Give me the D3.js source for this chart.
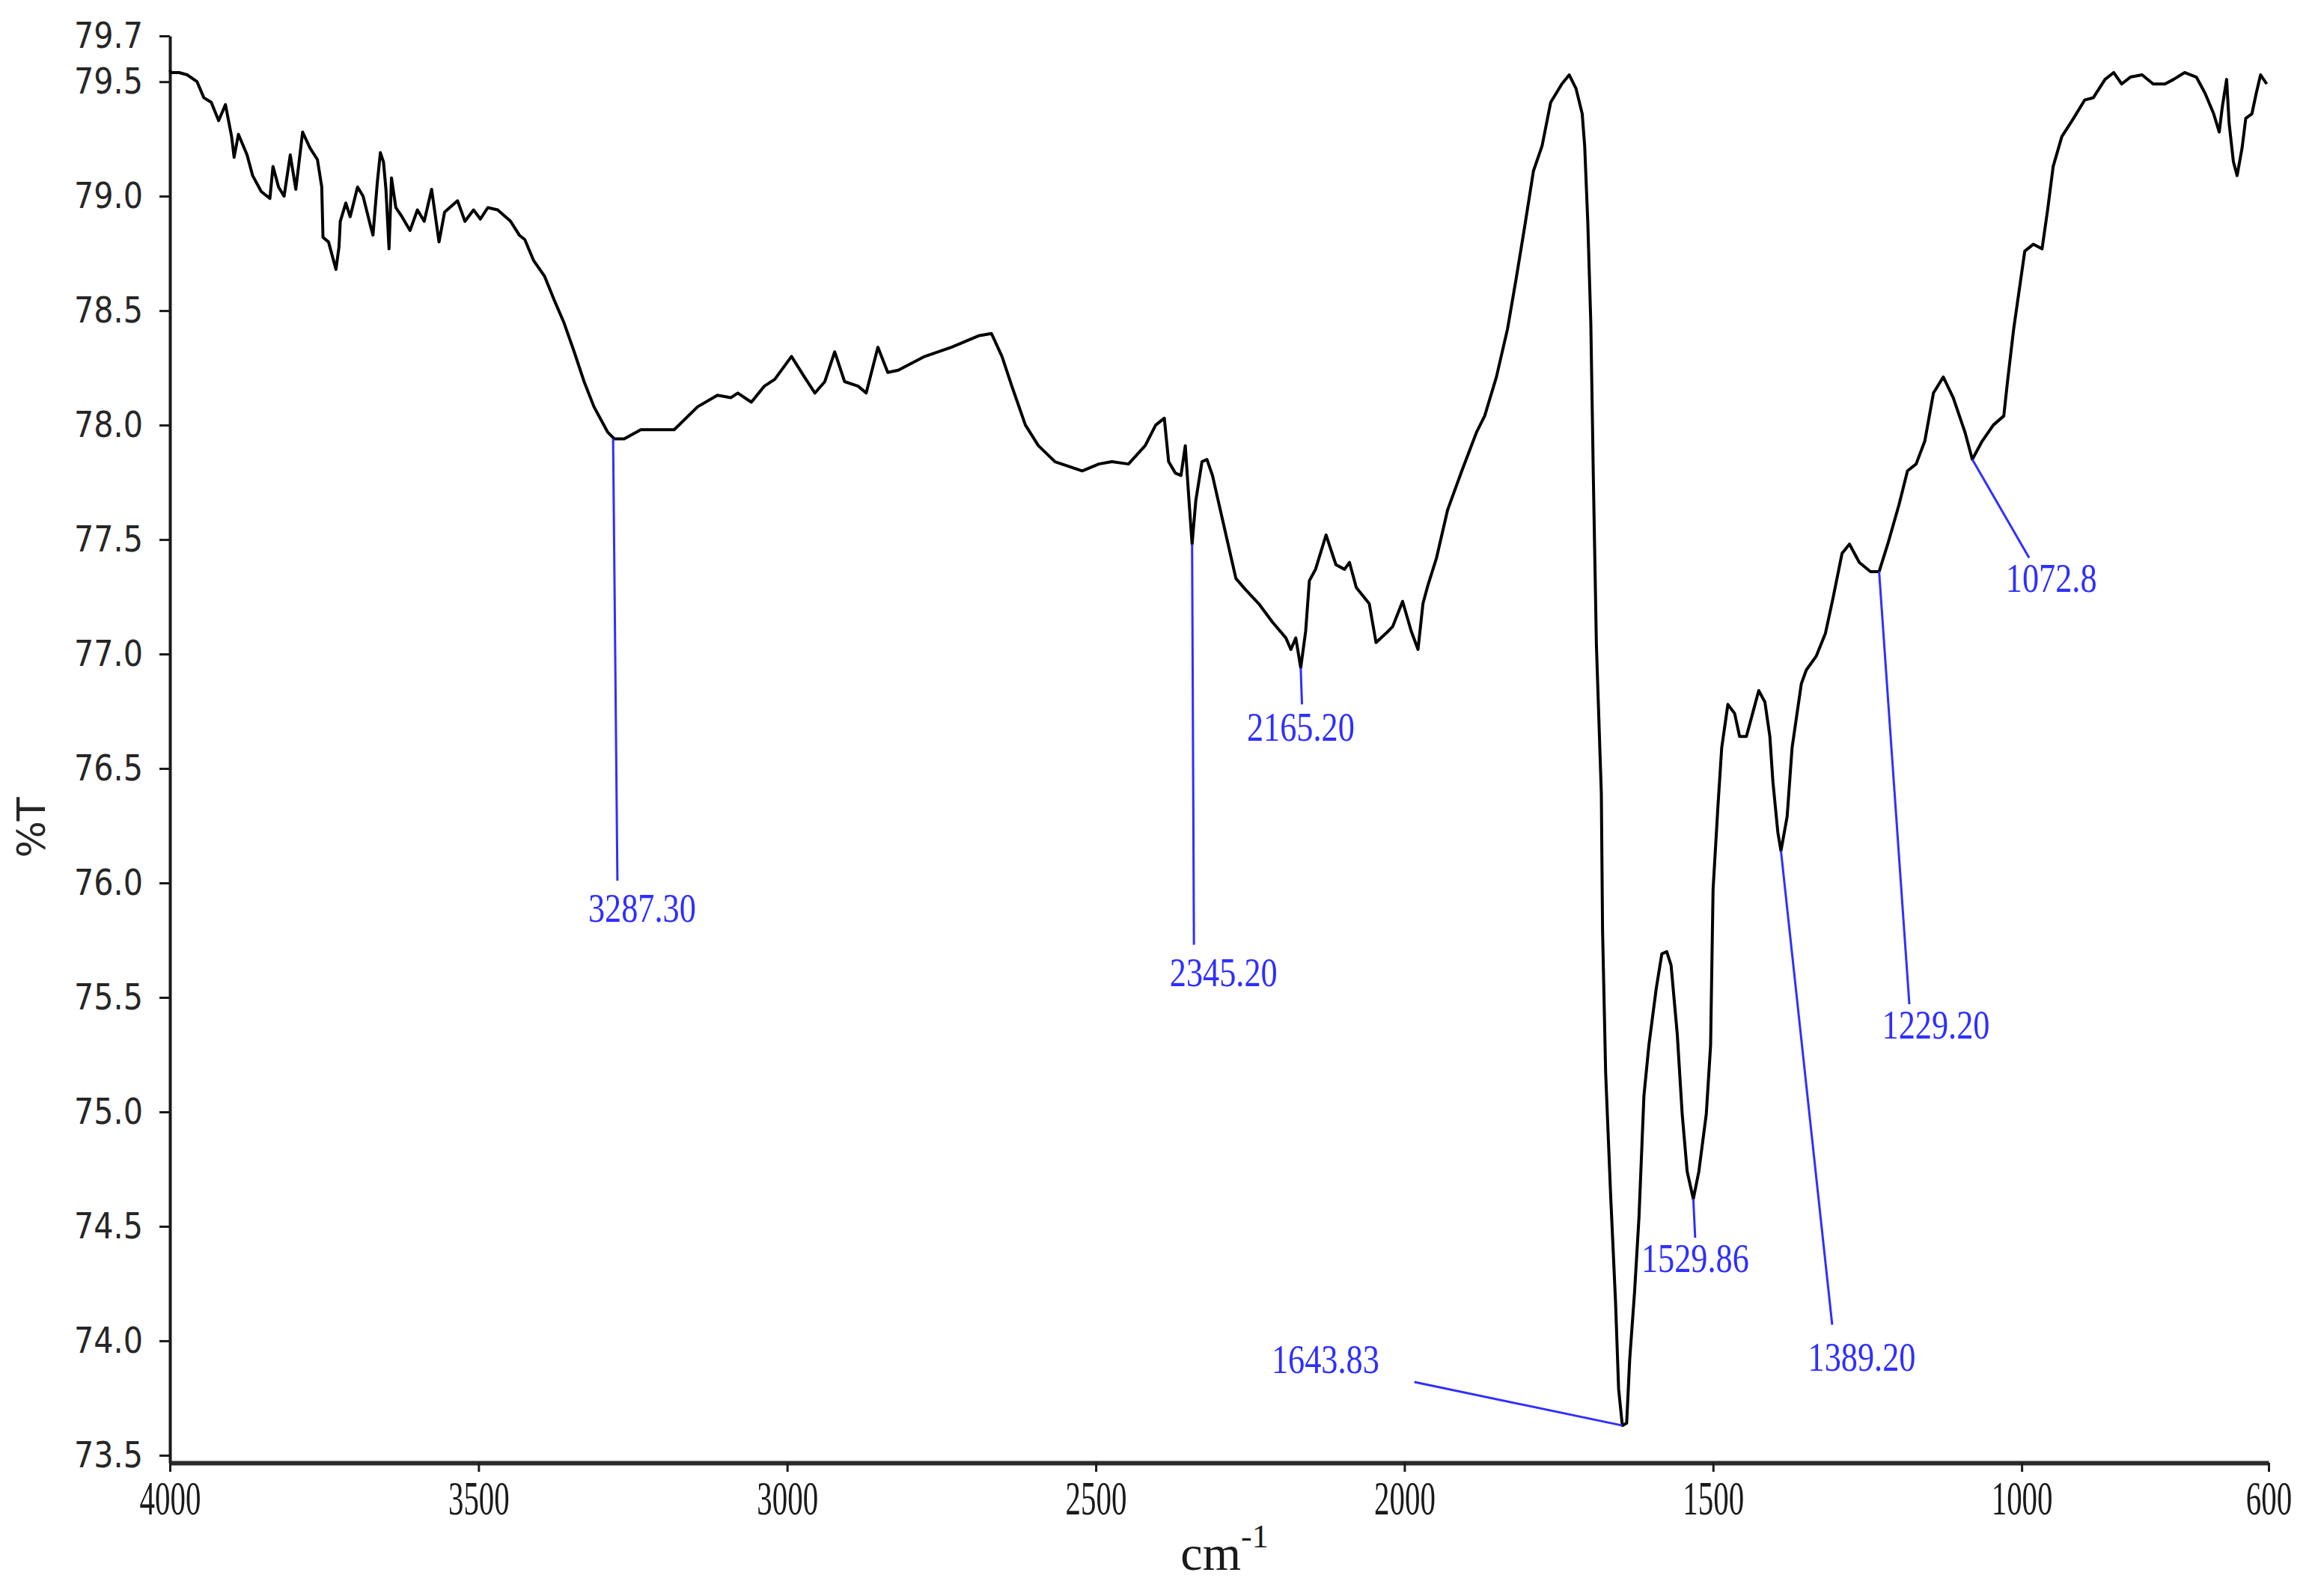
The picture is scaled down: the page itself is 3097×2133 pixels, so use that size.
<!DOCTYPE html>
<html>
<head>
<meta charset="utf-8">
<script src="https://cdn.jsdelivr.net/npm/d3@7/dist/d3.min.js"></script>
<style>
  html, body { margin: 0; padding: 0; background: #fff; }
  svg { display: block; }
</style>
</head>
<body>
<svg id="chart" width="3097" height="2133"></svg>
<script>
// ---- Data (wavenumber cm-1, %T) ----
const wavenumbers = [4000,3998,3985,3972,3956,3945,3933,3921,3910,3900,3896,3889,3875,3866,3852,3838,3833,3824,3815,3805,3796,3785,3773,3761,3754,3752,3743,3731,3726,3724,3715,3708,3696,3687,3675,3671,3664,3659,3654,3650,3645,3641,3634,3624,3611,3599,3588,3576,3564,3555,3534,3522,3508,3497,3485,3469,3448,3434,3425,3411,3393,3378,3362,3345,3329,3313,3291,3280,3264,3237,3183,3145,3113,3091,3080,3058,3037,3020,2993,2972,2955,2939,2923,2907,2885,2872,2853,2837,2820,2777,2734,2690,2669,2652,2636,2614,2593,2566,2522,2495,2474,2447,2420,2403,2389,2382,2371,2362,2355,2349,2344,2338,2328,2320,2311,2295,2273,2257,2236,2214,2192,2184,2176,2168,2160,2154,2144,2127,2111,2097,2089,2078,2057,2046,2030,2019,2003,1989,1978,1970,1962,1948,1930,1907,1883,1870,1851,1833,1819,1805,1791,1777,1763,1745,1733,1722,1712,1708,1703,1698,1694,1689,1681,1679,1674,1666,1658,1653,1647,1640,1635,1627,1620,1612,1604,1592,1583,1575,1568,1558,1550,1542,1532,1523,1511,1504,1500,1492,1486,1476,1465,1457,1446,1436,1426,1416,1408,1403,1395,1390,1380,1372,1364,1357,1349,1333,1318,1306,1291,1279,1263,1245,1231,1217,1199,1185,1171,1157,1143,1127,1111,1092,1080,1064,1046,1029,1023,1013,1004,995,981,967,958,949,935,916,898,884,865,851,838,824,805,787,768,754,736,717,703,689,680,675,668,664,657,651,643,637,627,620,613,603];
const transmittance = [79.55,79.54,79.54,79.53,79.50,79.43,79.41,79.33,79.40,79.26,79.17,79.27,79.18,79.09,79.02,78.99,79.13,79.04,79.00,79.18,79.03,79.28,79.21,79.16,79.04,78.82,78.80,78.68,78.78,78.89,78.97,78.91,79.04,79.00,78.87,78.83,79.06,79.19,79.15,79.03,78.77,79.08,78.95,78.91,78.85,78.94,78.89,79.03,78.80,78.93,78.98,78.89,78.94,78.90,78.95,78.94,78.89,78.83,78.81,78.72,78.65,78.55,78.45,78.32,78.19,78.08,77.97,77.94,77.94,77.98,77.98,78.08,78.13,78.12,78.14,78.10,78.17,78.20,78.30,78.21,78.14,78.19,78.32,78.19,78.17,78.14,78.34,78.23,78.24,78.30,78.34,78.39,78.40,78.30,78.17,78.00,77.91,77.84,77.80,77.83,77.84,77.83,77.91,78.00,78.03,77.84,77.79,77.78,77.91,77.67,77.48,77.67,77.84,77.85,77.78,77.59,77.33,77.28,77.22,77.14,77.07,77.02,77.07,76.94,77.10,77.32,77.37,77.52,77.39,77.37,77.40,77.29,77.22,77.05,77.09,77.12,77.23,77.10,77.02,77.22,77.30,77.42,77.63,77.80,77.97,78.04,78.21,78.42,78.64,78.87,79.11,79.22,79.41,79.49,79.53,79.47,79.36,79.22,78.89,78.44,77.78,77.04,76.39,75.79,75.17,74.64,74.17,73.79,73.63,73.64,73.92,74.22,74.54,75.07,75.29,75.54,75.69,75.70,75.64,75.34,74.99,74.74,74.62,74.74,74.99,75.29,75.97,76.34,76.59,76.78,76.74,76.64,76.64,76.74,76.84,76.79,76.64,76.44,76.22,76.14,76.29,76.59,76.74,76.87,76.93,76.99,77.09,77.24,77.44,77.48,77.40,77.36,77.36,77.48,77.65,77.80,77.83,77.93,78.14,78.21,78.12,77.97,77.85,77.93,78.00,78.04,78.19,78.42,78.59,78.76,78.79,78.77,78.94,79.13,79.26,79.34,79.42,79.43,79.51,79.54,79.49,79.52,79.53,79.49,79.49,79.51,79.54,79.52,79.45,79.36,79.28,79.39,79.51,79.32,79.15,79.09,79.21,79.34,79.36,79.45,79.53,79.49];

// Peak annotations: label, peak position on curve, and end of leader line (data units)
const peakLabels = ["3287.30","2345.20","2165.20","1643.83","1529.86","1389.20","1229.20","1072.8"];
const peakWn     = [3282, 2344, 2168, 1647, 1532, 1390, 1231, 1080];
const peakT      = [77.94, 77.48, 76.94, 73.63, 74.62, 76.14, 77.36, 77.85];
const leaderWn   = [3275, 2341, 2166, 1984, 1529, 1307, 1182, 988];
const leaderT    = [76.01, 75.73, 76.78, 73.82, 74.45, 74.07, 75.47, 77.42];
const labelWn    = [3235, 2293, 2168, 2128, 1529, 1259, 1139, 952];
const labelT     = [75.83, 75.55, 76.62, 73.86, 74.30, 73.87, 75.32, 77.27];

// Axis ticks
const xTicks = [4000, 3500, 3000, 2500, 2000, 1500, 1000, 600];
const yTicks = [73.5, 74.0, 74.5, 75.0, 75.5, 76.0, 76.5, 77.0, 77.5, 78.0, 78.5, 79.0, 79.5, 79.7];
const xTitle = "cm";
const xTitleSup = "-1";
const yTitle = "%T";

// ---- Drawing ----
const svg = d3.select("#chart");
const x = d3.scaleLinear().domain([4000, 600]).range([227, 3031]);
const y = d3.scaleLinear().domain([73.467, 79.7]).range([1955, 48]);

const data = wavenumbers.map((w, i) => ({ w, t: transmittance[i] }));

// y axis
const yAxis = svg.append("g")
  .attr("transform", `translate(${x(4000)},0)`)
  .call(d3.axisLeft(y).tickValues(yTicks).tickFormat(d3.format(".1f")).tickSize(14).tickSizeOuter(0).tickPadding(22));
yAxis.select(".domain").attr("stroke", "#1a1a1a").attr("stroke-width", 4);
yAxis.selectAll(".tick line").attr("stroke", "#1a1a1a").attr("stroke-width", 3);
yAxis.selectAll(".tick text")
  .attr("font-family", "DejaVu Sans, Verdana, sans-serif")
  .attr("font-size", 48)
  .attr("fill", "#262626")
  .each(function() {
    const len = this.getComputedTextLength();
    d3.select(this).attr("textLength", len * 0.86).attr("lengthAdjust", "spacingAndGlyphs");
  });

// x axis
const xAxis = svg.append("g")
  .attr("transform", `translate(0,${y.range()[0]})`)
  .call(d3.axisBottom(x).tickValues(xTicks).tickFormat(d3.format("d")).tickSize(12).tickSizeOuter(0).tickPadding(12));
xAxis.select(".domain").attr("stroke", "#2a2a2a").attr("stroke-width", 6);
xAxis.selectAll(".tick line").attr("stroke", "#1a1a1a").attr("stroke-width", 3);
xAxis.selectAll(".tick text")
  .attr("font-family", "Liberation Serif, Times New Roman, serif")
  .attr("font-size", 64)
  .attr("fill", "#1a1a1a")
  .each(function() {
    const len = this.getComputedTextLength();
    d3.select(this).attr("textLength", len * 0.64).attr("lengthAdjust", "spacingAndGlyphs");
  });

// axis titles
const xt = svg.append("text")
  .attr("x", 1636).attr("y", 2098)
  .attr("text-anchor", "middle")
  .attr("font-family", "Liberation Serif, Times New Roman, serif")
  .attr("font-size", 66)
  .attr("fill", "#1a1a1a");
xt.append("tspan").text(xTitle);
xt.append("tspan").attr("dy", -30).attr("font-size", 44).text(xTitleSup);

svg.append("text")
  .attr("transform", "translate(60,1106) rotate(-90)")
  .attr("text-anchor", "middle")
  .attr("font-family", "DejaVu Sans, Verdana, sans-serif")
  .attr("font-size", 52)
  .attr("fill", "#262626")
  .text(yTitle);

// spectrum
svg.append("path")
  .datum(data)
  .attr("fill", "none")
  .attr("stroke", "#000")
  .attr("stroke-width", 4)
  .attr("stroke-linejoin", "round")
  .attr("d", d3.line().x(d => x(d.w)).y(d => y(d.t)));

// annotations
const ann = peakLabels.map((lab, i) => ({
  lab, pw: peakWn[i], pt: peakT[i], lw: leaderWn[i], lt: leaderT[i], tw: labelWn[i], tt: labelT[i]
}));
const ag = svg.append("g");
ag.selectAll("line").data(ann).join("line")
  .attr("x1", d => x(d.pw)).attr("y1", d => y(d.pt))
  .attr("x2", d => x(d.lw)).attr("y2", d => y(d.lt))
  .attr("stroke", "#2f2fff").attr("stroke-width", 3);
ag.selectAll("text").data(ann).join("text")
  .attr("x", d => x(d.tw)).attr("y", d => y(d.tt))
  .attr("text-anchor", "middle")
  .attr("font-family", "Liberation Serif, Times New Roman, serif")
  .attr("font-size", 54)
  .attr("fill", "#2f2fff")
  .text(d => d.lab)
  .each(function() {
    const len = this.getComputedTextLength();
    d3.select(this).attr("textLength", len * 0.82).attr("lengthAdjust", "spacingAndGlyphs");
  });
</script>
</body>
</html>
